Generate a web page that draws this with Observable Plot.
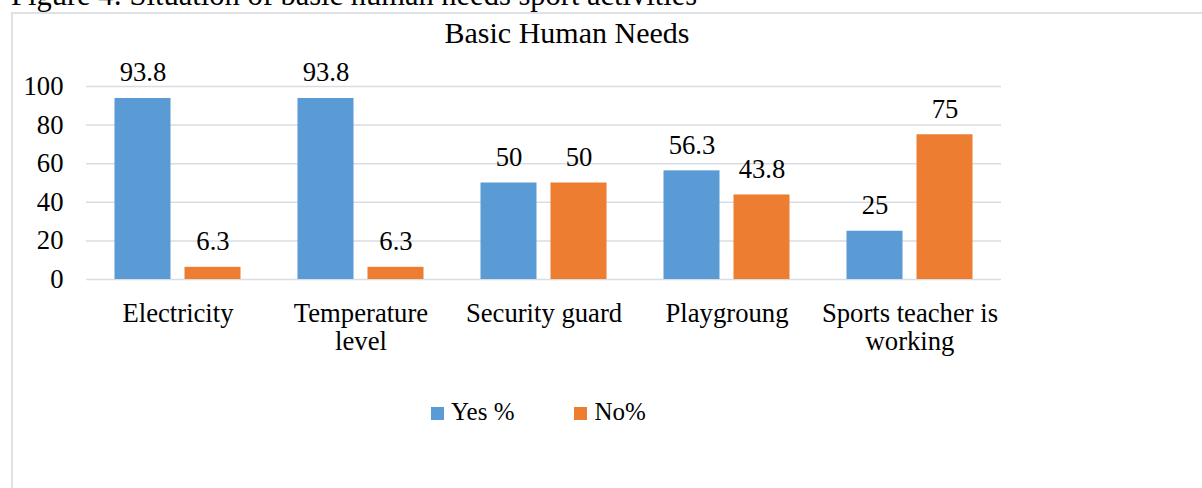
<!DOCTYPE html>
<html>
<head>
<meta charset="utf-8">
<script src="https://cdn.jsdelivr.net/npm/d3@7"></script>
<script src="https://cdn.jsdelivr.net/npm/@observablehq/plot@0.6"></script>
<style>
  html, body { margin: 0; padding: 0; background: #fff; }
  body { width: 1202px; height: 488px; overflow: hidden; position: relative; font-family: "Liberation Serif", "Times New Roman", serif; color: #000; }
  #caption { position: absolute; left: 11px; top: -20px; font-size: 30.5px; line-height: 30px; white-space: nowrap; }
  #box { position: absolute; left: 11px; top: 12px; width: 1300px; height: 600px; border-left: 2px solid #DEE2E7; border-top: 2px solid #DEE2E7; box-sizing: border-box; }
  #title { position: absolute; left: 0; width: 1134px; top: 18px; text-align: center; font-size: 30px; line-height: 30px; white-space: nowrap; }
  #chart { position: absolute; left: 0; top: 0; }
  #legend { position: absolute; left: 431px; top: 399px; font-size: 25px; line-height: 25px; white-space: nowrap; }
  .item { display: inline-block; margin-right: 60px; }
  .sw { display: inline-block; width: 13px; height: 13px; vertical-align: baseline; margin-right: 7px; }
</style>
</head>
<body>
<div id="caption">Figure 4: Situation of basic human needs sport activities</div>
<div id="box"></div>
<div id="title">Basic Human Needs</div>
<div id="chart"></div>
<div id="legend"></div>
<script>
// ---- data ----
const categories = ["Electricity", "Temperature level", "Security guard", "Playgroung", "Sports teacher is working"];
const categoryLabels = ["Electricity", "Temperature\nlevel", "Security guard", "Playgroung", "Sports teacher is\nworking"];
const series = ["Yes %", "No%"];
const yesValues = [93.8, 93.8, 50, 56.3, 25];
const noValues = [6.3, 6.3, 50, 43.8, 75];
const yTicks = [0, 20, 40, 60, 80, 100];
const colors = ["#5B9BD5", "#ED7D31"];

const rows = [];
categories.forEach((c, i) => {
  rows.push({category: c, series: series[0], value: yesValues[i]});
  rows.push({category: c, series: series[1], value: noValues[i]});
});
const labelOf = new Map(categories.map((c, i) => [c, categoryLabels[i]]));

const FONT = "'Liberation Serif', 'Times New Roman', serif";
const FS = 26.67;

const chart = Plot.plot({
  width: 1202,
  height: 359,
  marginLeft: 86,
  marginRight: 201,
  marginTop: 86,
  marginBottom: 80,
  style: {fontFamily: FONT, fontSize: FS + "px", color: "#000", background: "transparent", overflow: "visible"},
  fx: {domain: categories, padding: 0, round: false, label: null},
  x: {domain: series, paddingInner: 0.2, paddingOuter: 0.407, round: false, axis: null},
  y: {domain: [0, 100], label: null},
  color: {domain: series, range: colors},
  marks: [
    Plot.gridY(yTicks, {stroke: "#D9DDE3", strokeOpacity: 1, strokeWidth: 1.5}),
    Plot.barY(rows, {fx: "category", x: "series", y: "value", fill: "series"}),
    Plot.text(rows, {fx: "category", x: "series", y: "value", text: d => String(d.value), lineAnchor: "bottom", dy: -17, fontSize: FS, fill: "#000"}),
    Plot.axisY(yTicks, {tickSize: 0, tickPadding: 23, fontSize: FS, label: null, tickFormat: d => String(d)}),
    Plot.axisFx({anchor: "bottom", tickSize: 0, tickPadding: 22, fontSize: FS, lineHeight: 1.07, label: null, tickFormat: d => labelOf.get(d)})
  ]
});
document.getElementById("chart").appendChild(chart);

const legend = document.getElementById("legend");
series.forEach((s, i) => {
  const item = document.createElement("span");
  item.className = "item";
  const sw = document.createElement("span");
  sw.className = "sw";
  sw.style.background = colors[i];
  item.appendChild(sw);
  item.appendChild(document.createTextNode(s));
  legend.appendChild(item);
});
</script>
</body>
</html>
